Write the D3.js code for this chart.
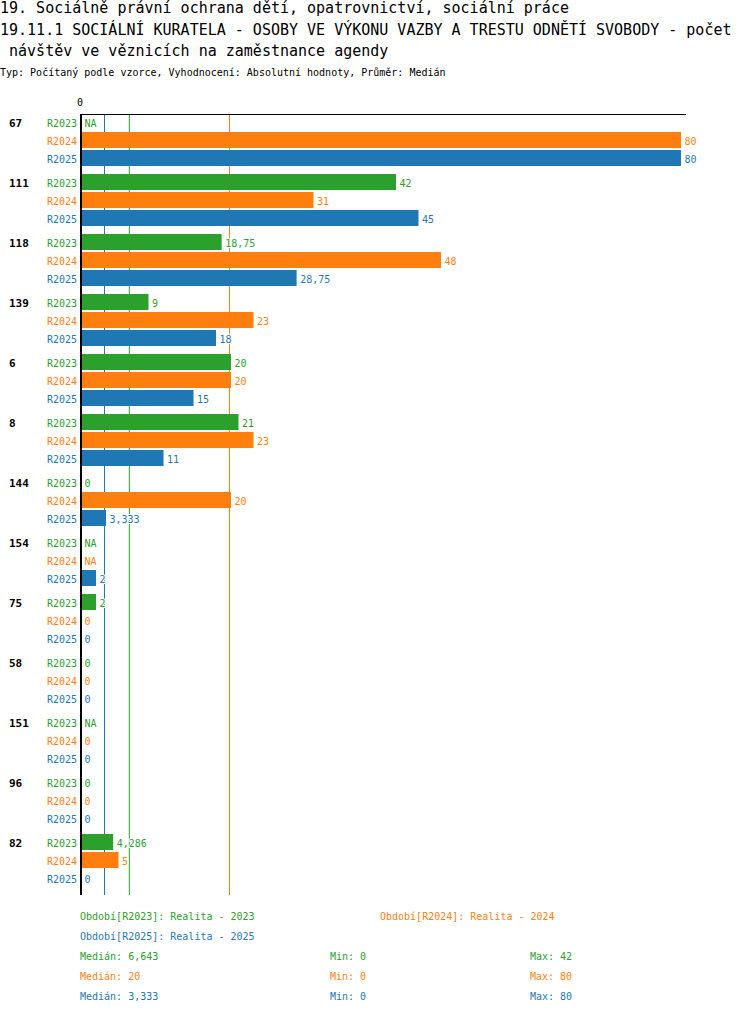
<!DOCTYPE html>
<html><head><meta charset="utf-8">
<script src="https://cdn.jsdelivr.net/npm/d3@7"></script>
<style>
body{margin:0;background:#fff;}
text{font-family:"DejaVu Sans Mono",monospace;}
</style></head>
<body>
<script>
const groups = ["67","111","118","139","6","8","144","154","75","58","151","96","82"];
const seriesKeys = ["R2023","R2024","R2025"];
const seriesColors = ["#2ca02c","#ff7f0e","#1f77b4"];
const valuesR2023 = [null,42,18.75,9,20,21,0,null,2,0,null,0,4.286];
const valuesR2024 = [80,31,48,23,20,23,20,null,0,0,0,0,5];
const valuesR2025 = [80,45,28.75,18,15,11,3.333,2,0,0,0,0,0];
const medians = [6.643,20,3.333];
const mins = [0,0,0];
const maxs = [42,80,80];
const legendNames = ["Období[R2023]: Realita - 2023","Období[R2024]: Realita - 2024","Období[R2025]: Realita - 2025"];
const titleLines = ["19. Sociálně právní ochrana dětí, opatrovnictví, sociální práce",
 "19.11.1 SOCIÁLNÍ KURATELA - OSOBY VE VÝKONU VAZBY A TRESTU ODNĚTÍ SVOBODY - počet",
 " návštěv ve věznicích na zaměstnance agendy"];
const subtitle = "Typ: Počítaný podle vzorce, Vyhodnocení: Absolutní hodnoty, Průměr: Medián";

const allValues = [valuesR2023, valuesR2024, valuesR2025];
const W = 750, H = 1014;
const svg = d3.select("body").append("svg").attr("width",W).attr("height",H);

const fmt = v => v===null ? "NA" : String(v).replace(".", ",");

// titles
svg.selectAll("text.title").data(titleLines).enter().append("text")
  .attr("x",0).attr("y",(d,i)=>13+i*21.5).attr("font-size",15).attr("fill","#000")
  .style("white-space","pre").text(d=>d);
svg.append("text").attr("x",0).attr("y",76).attr("font-size",10).attr("fill","#000").text(subtitle);

const x = d3.scaleLinear().domain([0,80]).range([81,681]);
const yG = d3.scaleBand().domain(groups).range([114,894]);
const yS = d3.scaleBand().domain(seriesKeys).range([0,52]).paddingInner(2/18);
const plotTop = 114, plotBottom = 895;

// median lines (behind bars)
medians.forEach((m,i)=>{
  svg.append("line").attr("x1",x(m)-1.5).attr("x2",x(m)-1.5).attr("y1",plotTop).attr("y2",plotBottom)
    .attr("stroke",seriesColors[i]).attr("stroke-width",1);
});

// bars
groups.forEach((g,gi)=>{
  const gg = svg.append("g");
  gg.append("text").attr("x",9).attr("y",yG(g)+yS("R2023")+yS.bandwidth()/2+1)
    .attr("dominant-baseline","central").attr("font-size",11).attr("font-weight","bold").attr("fill","#000").text(g);
  seriesKeys.forEach((s,si)=>{
    const v = allValues[si][gi];
    const yc = yG(g)+yS(s)+yS.bandwidth()/2+1;
    gg.append("text").attr("x",77).attr("y",yc).attr("text-anchor","end")
      .attr("dominant-baseline","central").attr("font-size",10).attr("fill",seriesColors[si]).text(s);
    if(v!==null && v>0){
      gg.append("rect").attr("x",x(0)).attr("y",yG(g)+yS(s))
        .attr("width",x(v)-x(0)).attr("height",yS.bandwidth()).attr("fill",seriesColors[si]);
    }
    gg.append("text").attr("x",(v===null?x(0):x(v))+3.5).attr("y",yc)
      .attr("dominant-baseline","central").attr("font-size",10).attr("fill",seriesColors[si])
      .attr("stroke","#fff").attr("stroke-width",2).attr("paint-order","stroke").text(fmt(v));
  });
});

// axes
svg.append("line").attr("x1",80).attr("x2",686).attr("y1",114.5).attr("y2",114.5).attr("stroke","#000").attr("stroke-width",1.2);
svg.append("line").attr("x1",x(0)).attr("x2",x(0)).attr("y1",plotTop).attr("y2",plotBottom).attr("stroke","#000").attr("stroke-width",2);
svg.append("text").attr("x",x(0)-1).attr("y",102).attr("text-anchor","middle").attr("dominant-baseline","central")
  .attr("font-size",10).attr("fill","#000").text("0");

// legend
const legPos = [[80,916],[380,916],[80,936]];
legendNames.forEach((t,i)=>{
  svg.append("text").attr("x",legPos[i][0]).attr("y",legPos[i][1]).attr("dominant-baseline","central")
    .attr("font-size",10).attr("fill",seriesColors[i]).text(t);
});
seriesKeys.forEach((s,i)=>{
  const yy = 956+i*20;
  svg.append("text").attr("x",80).attr("y",yy).attr("dominant-baseline","central").attr("font-size",10)
    .attr("fill",seriesColors[i]).text("Medián: "+fmt(medians[i]));
  svg.append("text").attr("x",330).attr("y",yy).attr("dominant-baseline","central").attr("font-size",10)
    .attr("fill",seriesColors[i]).text("Min: "+fmt(mins[i]));
  svg.append("text").attr("x",530).attr("y",yy).attr("dominant-baseline","central").attr("font-size",10)
    .attr("fill",seriesColors[i]).text("Max: "+fmt(maxs[i]));
});
</script>
</body></html>
